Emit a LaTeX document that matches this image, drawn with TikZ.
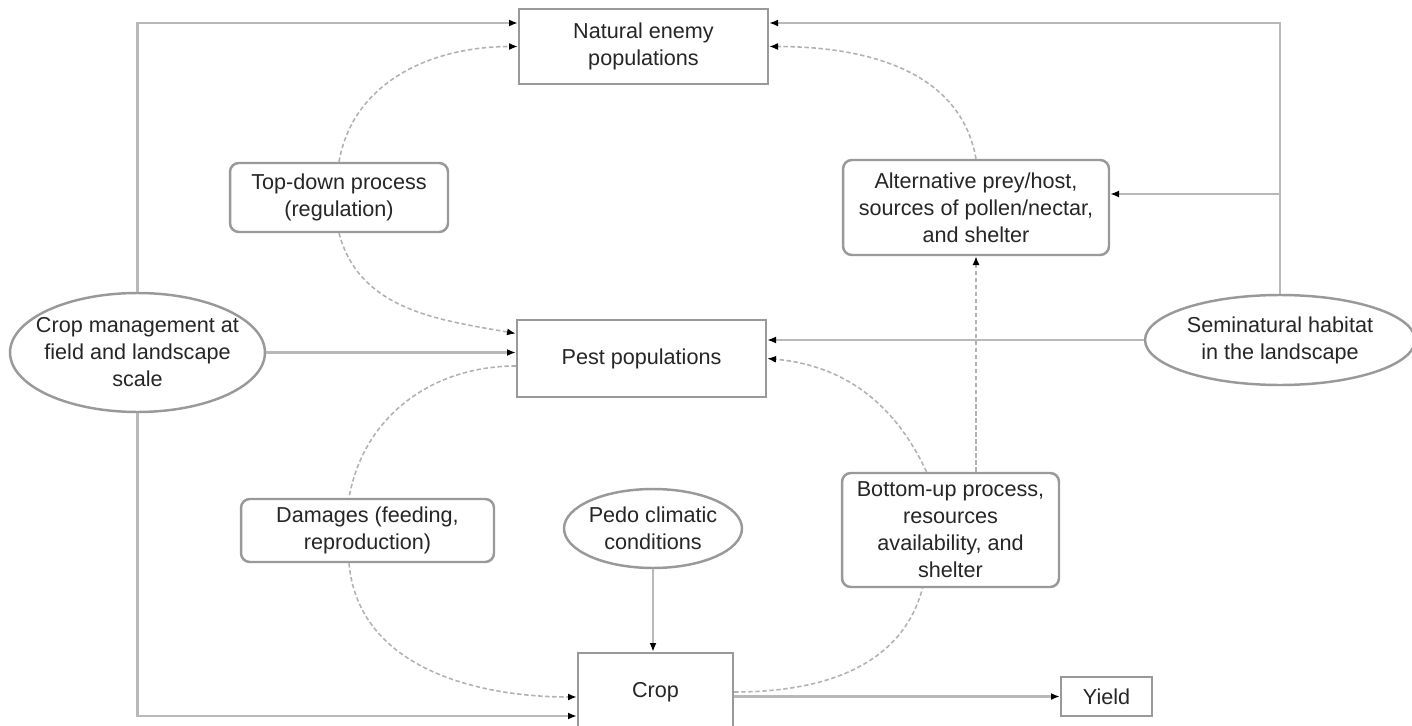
\documentclass[tikz,border=0pt]{standalone}
\usepackage{fontspec}
\setmainfont{Liberation Sans}
\usetikzlibrary{arrows.meta,shapes.geometric}

\begin{document}
\begin{tikzpicture}[x=0.02cm, y=-0.02cm,
  every node/.style={font=\fontsize{12.3}{15.4}\selectfont, align=center, text=black!85},
  box/.style={draw=gray!80, line width=1.4pt, fill=white},
  rbox/.style={box, rounded corners=5pt},
  oval/.style={box, ellipse, inner xsep=-0.4cm, inner ysep=0pt},
  link/.style={draw=gray!55, line width=1.6pt, -{Latex[color=black, length=5pt, width=4pt]}},
  soft/.style={draw=gray!60, line width=0.9pt, dash pattern=on 2.5pt off 1.5pt},
  softarr/.style={soft, -{Latex[color=black, length=5pt, width=4pt]}}]
\useasboundingbox (0,0) rectangle (1412,726);
\node[box, minimum width=4.98cm, minimum height=1.5cm] (enemy) at (643.5, 46.5) {Natural enemy\\populations};
\node[rbox, minimum width=4.36cm, minimum height=1.38cm] (topdown) at (339, 197.5) {Top-down process\\(regulation)};
\node[rbox, minimum width=5.32cm, minimum height=1.9cm] (alt) at (976, 207.5) {Alternative prey/host,\\sources of pollen/nectar,\\and shelter};
\node[oval, minimum width=5.1cm, minimum height=2.38cm] (manage) at (137.5, 352.5) {Crop management at\\field and landscape\\scale};
\node[box, minimum width=4.98cm, minimum height=1.54cm] (pest) at (641.5, 358.5) {Pest populations};
\node[oval, minimum width=5.4cm, minimum height=1.8cm] (habitat) at (1280, 340) {Seminatural habitat\\in the landscape};
\node[rbox, minimum width=5.06cm, minimum height=1.26cm] (damage) at (367.5, 530.5) {Damages (feeding,\\reproduction)};
\node[oval, minimum width=3.56cm, minimum height=1.58cm] (pedo) at (653, 528.5) {Pedo climatic\\conditions};
\node[rbox, minimum width=4.34cm, minimum height=2.28cm] (bottomup) at (950.5, 530) {Bottom-up process,\\resources\\availability, and\\shelter};
\node[box, minimum width=3.1cm, minimum height=1.56cm] (crop) at (655.5, 692) {Crop};
\node[box, minimum width=1.82cm, minimum height=0.78cm] (yield) at (1106.5, 696.5) {Yield};
\draw[link] (manage.north) |- ([yshift=0.47cm]enemy.west);
\draw[link] (manage.east) -- (manage.east -| pest.west);
\draw[link] (manage.south) |- ([yshift=-0.48cm]crop.west);
\draw[link] (habitat.north) |- ([yshift=0.47cm]enemy.east);
\draw[link] (habitat.north) |- ([yshift=0.27cm]alt.east);
\draw[link] (habitat.west) -- (habitat.west -| pest.east);
\draw[link] (pedo.south) -- (pedo.south |- crop.north);
\draw[link] (crop.east |- yield.west) -- (yield.west);
\draw[softarr] (topdown.north) to[out=80, in=180] (enemy.west);
\draw[softarr] (topdown.south) to[out=-75, in=170] ([yshift=0.5cm]pest.west);
\draw[soft] ([yshift=-0.15cm]pest.west) to[out=180, in=80] ([xshift=-0.37cm]damage.north);
\draw[softarr] ([xshift=-0.37cm]damage.south) to[out=-85, in=180] ([yshift=-0.1cm]crop.west);
\draw[soft] (crop.east) to[out=0, in=-105] ([xshift=-0.56cm]bottomup.south);
\draw[softarr] ([xshift=-0.48cm]bottomup.north) to[out=115, in=-5] (pest.east);
\draw[softarr] (alt.south |- bottomup.north) -- (alt.south);
\draw[softarr] (alt.north) to[out=100, in=0] (enemy.east);
\end{tikzpicture}
\end{document}
